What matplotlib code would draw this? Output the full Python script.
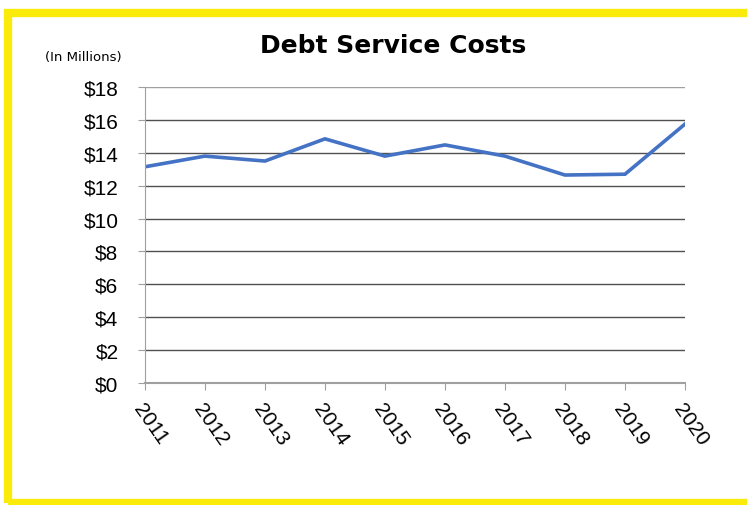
import matplotlib.pyplot as plt
from matplotlib.patches import Rectangle

years = ["2011", "2012", "2013", "2014", "2015", "2016", "2017", "2018", "2019", "2020"]
costs = [13.15, 13.8, 13.5, 14.85, 13.8, 14.48, 13.8, 12.65, 12.7, 15.75]
y_ticks = [0, 2, 4, 6, 8, 10, 12, 14, 16, 18]
y_labels = ["$" + str(v) for v in y_ticks]

plt.rcParams['font.family'] = ['Liberation Sans', 'DejaVu Sans']

fig = plt.figure(figsize=(7.47, 5.06), dpi=100)
fig.patch.set_facecolor("white")

# yellow frame, right edge runs off the picture
fig.patches.append(Rectangle((0.011, 0.004), 1.2, 0.968, transform=fig.transFigure,
                             fill=False, edgecolor="#fbeb0a", linewidth=6))

ax = fig.add_axes([0.194, 0.241, 0.723, 0.585])
x = list(range(len(years)))
ax.plot(x, costs, color="#4472C4", linewidth=2.6, solid_joinstyle="miter")

ax.set_xlim(0, len(years) - 1)
ax.set_ylim(0, 18)
ax.set_yticks(y_ticks)
ax.set_yticklabels(y_labels, fontsize=15)
ax.set_xticks(x)
ax.set_xticklabels(years, fontsize=15, rotation=-55, ha="left", va="top",
                   rotation_mode="anchor")
ax.tick_params(axis="x", length=5, color="#a0a0a0", pad=7)
ax.tick_params(axis="y", length=5, color="#a0a0a0", pad=14)

for v in y_ticks[1:]:
    ax.axhline(v, color="#a0a0a0" if v == 18 else "#505050", linewidth=1, zorder=0)

for s in ["top", "right"]:
    ax.spines[s].set_visible(False)
ax.spines["left"].set_color("#a0a0a0")
ax.spines["bottom"].set_color("#a0a0a0")
ax.spines["bottom"].set_linewidth(1.5)

fig.text(0.526, 0.91, "Debt Service Costs", ha="center", va="center",
         fontsize=18, fontweight="bold", family="DejaVu Sans")
fig.text(0.06, 0.886, "(In Millions)", ha="left", va="center", fontsize=9.5,
         family="DejaVu Sans")

fig.savefig("out.png", dpi=100)
